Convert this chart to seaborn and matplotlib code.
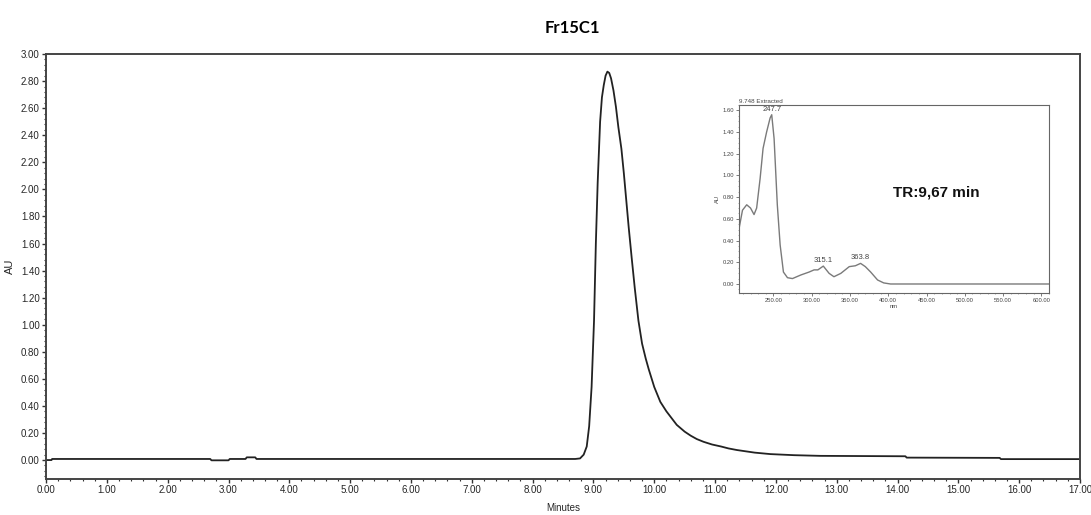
import numpy as np
import pandas as pd
import seaborn as sns
import matplotlib.pyplot as plt
from matplotlib.ticker import MultipleLocator, FormatStrFormatter

# chromatogram (minutes, AU)
minutes = [0.00, 0.09, 0.10, 2.70, 2.72, 3.00, 3.02, 3.28, 3.30, 3.44, 3.46,
           8.70, 8.78, 8.84, 8.89, 8.93, 8.97, 9.01, 9.04, 9.07, 9.11, 9.14,
           9.17, 9.20, 9.23, 9.26, 9.29, 9.33, 9.37, 9.41, 9.46, 9.50, 9.54,
           9.58, 9.63, 9.68, 9.74, 9.80, 9.86, 9.91, 10.00, 10.10, 10.20,
           10.37, 10.50, 10.60, 10.70, 10.81, 10.95, 11.10, 11.22, 11.36,
           11.65, 11.91, 12.30, 12.73, 14.13, 14.15, 15.68, 15.70, 17.00]
au = [0.000, 0.000, 0.008, 0.008, -0.002, -0.002, 0.008, 0.008, 0.020, 0.020, 0.008,
      0.008, 0.012, 0.040, 0.100, 0.250, 0.540, 1.030, 1.600, 2.050, 2.500, 2.680,
      2.770, 2.840, 2.870, 2.860, 2.820, 2.730, 2.610, 2.460, 2.300, 2.120, 1.920,
      1.720, 1.490, 1.270, 1.030, 0.860, 0.750, 0.670, 0.540, 0.430, 0.360,
      0.260, 0.210, 0.180, 0.155, 0.135, 0.115, 0.100, 0.086, 0.074,
      0.055, 0.044, 0.036, 0.031, 0.028, 0.018, 0.016, 0.007, 0.007]

# extracted UV spectrum at 9.748 min (nm, AU)
nm = [205, 209.5, 215, 220, 224.6, 228, 232.5, 236.4, 241, 245.6, 247.7, 250.8,
      255, 258.7, 263, 268.3, 274.8, 285.7, 296.5, 303, 308, 315.1, 322.7, 329,
      338, 349, 357, 363.8, 370, 377, 386, 394, 403, 610]
uv = [0.51, 0.68, 0.73, 0.70, 0.64, 0.70, 0.97, 1.25, 1.40, 1.53, 1.56, 1.34,
      0.73, 0.36, 0.11, 0.058, 0.05, 0.083, 0.11, 0.13, 0.13, 0.165, 0.098, 0.067,
      0.098, 0.16, 0.168, 0.19, 0.16, 0.11, 0.037, 0.01, 0.0, 0.0]

peak_labels = ["247.7", "315.1", "363.8"]
peak_nm = [247.7, 315.1, 363.8]
peak_au = [1.56, 0.165, 0.19]

sns.set_style("ticks")
plt.rcParams['font.family'] = ['Liberation Sans', 'DejaVu Sans']

fig = plt.figure(figsize=(10.91, 5.15), dpi=100)
ax = fig.add_axes([0.0422, 0.0699, 0.9477, 0.8252])

chrom = pd.DataFrame({"Minutes": minutes, "AU": au})
sns.lineplot(data=chrom, x="Minutes", y="AU", ax=ax, color="#222222", lw=1.3, sort=False)
ax.set_xlim(0, 17)
ax.set_ylim(-0.14, 3.0)
ax.xaxis.set_major_locator(MultipleLocator(1))
ax.xaxis.set_minor_locator(MultipleLocator(0.2))
ax.yaxis.set_major_locator(MultipleLocator(0.2))
ax.yaxis.set_minor_locator(MultipleLocator(0.04))
ax.xaxis.set_major_formatter(FormatStrFormatter("%.2f"))
ax.yaxis.set_major_formatter(FormatStrFormatter("%.2f"))
ax.tick_params(axis="both", which="major", labelsize=7, length=3, width=1, color="#333333", pad=1.5)
ax.tick_params(axis="both", which="minor", length=1.5, width=0.8, color="#333333")
for s in ax.spines.values():
    s.set_color("#444444")
    s.set_linewidth(1.4)
ax.set_xlabel("Minutes", fontsize=7, labelpad=0)
ax.set_ylabel("AU", fontsize=8, labelpad=4)
ax.xaxis.set_label_coords(0.5, -0.057)

fig.text(0.525, 0.945, "Fr15C1", ha="center", va="center", fontsize=12,
         fontweight="bold", color="black", family=["Lato", "DejaVu Sans"])

# inset spectrum
ins = fig.add_axes([0.6774, 0.4317, 0.2841, 0.3645])
spec = pd.DataFrame({"nm": nm, "AU": uv})
sns.lineplot(data=spec, x="nm", y="AU", ax=ins, color="#7a7a7a", lw=1.0, sort=False)
ins.set_xlim(205, 610)
ins.set_ylim(-0.08, 1.65)
ins.xaxis.set_minor_locator(MultipleLocator(10))
ins.yaxis.set_major_locator(MultipleLocator(0.2))
ins.yaxis.set_minor_locator(MultipleLocator(0.05))
ins.set_xticks(np.arange(250, 601, 50))
ins.xaxis.set_major_formatter(FormatStrFormatter("%.2f"))
ins.yaxis.set_major_formatter(FormatStrFormatter("%.2f"))
ins.tick_params(axis="both", which="major", labelsize=4.2, length=2, width=0.6,
                color="#666666", labelcolor="#444444", pad=1.5)
ins.tick_params(axis="both", which="minor", length=1, width=0.5, color="#888888")
for s in ins.spines.values():
    s.set_color("#666666")
    s.set_linewidth(0.8)
ins.set_xlabel("nm", fontsize=4.2, color="#444444", labelpad=1)
ins.set_ylabel("AU", fontsize=4.2, color="#444444", labelpad=2)
ins.set_title("9.748 Extracted", fontsize=4.5, loc="left", pad=1.5, color="#444444")
for lab, x, y in zip(peak_labels, peak_nm, peak_au):
    ins.annotate(lab, (x, y), xytext=(0, 1.5), textcoords="offset points",
                 ha="center", va="bottom", fontsize=5.5, color="#444444")

fig.text(0.8585, 0.627, "TR:9,67 min", ha="center", va="center", fontsize=11,
         fontweight="bold", color="#111111")

fig.savefig("out.png", dpi=100)
